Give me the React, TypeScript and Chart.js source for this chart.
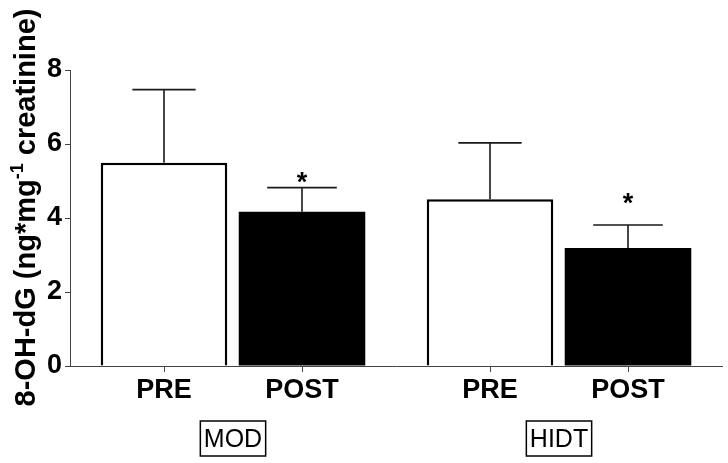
import React, { useEffect, useRef } from "react";
import { Chart, registerables } from "chart.js";

Chart.register(...registerables);

const groups = ["MOD", "HIDT"];
const phases = ["PRE", "POST"];
const preMeans = [5.49, 4.51];
const preSD = [1.98, 1.52];
const postMeans = [4.17, 3.19];
const postSD = [0.65, 0.62];
const postStarAt = [5.12, 4.54];
const yMin = 0;
const yMax = 8;
const yStep = 2;

const FONT = "'Liberation Sans', Arial, Helvetica, sans-serif";

const overlay = {
  id: "overlay",
  afterDatasetsDraw(chart: any) {
    const ctx = chart.ctx;
    const yScale = chart.scales.y;
    const xScale = chart.scales.x;
    const area = chart.chartArea;
    const sds = [preSD, postSD];
    const means = [preMeans, postMeans];
    const capRatio = [0.5, 0.55];
    ctx.save();
    for (let di = 0; di < 2; di++) {
      const meta = chart.getDatasetMeta(di);
      meta.data.forEach((bar: any, i: number) => {
        const p = bar.getProps(["x", "y", "width"], true);
        const top = yScale.getPixelForValue(means[di][i] + sds[di][i]);
        const capW = p.width * capRatio[di];
        ctx.strokeStyle = "#1a1a1a";
        ctx.lineWidth = 1.6;
        ctx.beginPath();
        ctx.moveTo(p.x, p.y);
        ctx.lineTo(p.x, top);
        ctx.moveTo(p.x - capW / 2, top);
        ctx.lineTo(p.x + capW / 2, top);
        ctx.stroke();
        ctx.strokeStyle = "#444";
        ctx.lineWidth = 1;
        ctx.beginPath();
        ctx.moveTo(Math.round(p.x) + 0.5, area.bottom);
        ctx.lineTo(Math.round(p.x) + 0.5, area.bottom + 6);
        ctx.stroke();
        ctx.fillStyle = "#000";
        ctx.font = `bold 27px ${FONT}`;
        ctx.textAlign = "center";
        ctx.textBaseline = "alphabetic";
        ctx.fillText(phases[di], p.x, 398);
        if (di === 1 && postStarAt[i] != null) {
          const sy = yScale.getPixelForValue(postStarAt[i]);
          ctx.font = `bold 27px ${FONT}`;
          ctx.fillText("*", p.x, sy + 14);
        }
      });
    }
    groups.forEach((g, i) => {
      const cx = xScale.getPixelForValue(i);
      ctx.font = `25px ${FONT}`;
      ctx.textAlign = "center";
      ctx.textBaseline = "alphabetic";
      ctx.fillStyle = "#000";
      ctx.fillText(g, cx, 446.5);
      ctx.strokeStyle = "#000";
      ctx.lineWidth = 1.5;
      const w = ctx.measureText(g).width + 7;
      ctx.strokeRect(cx - w / 2, 421, w, 35);
    });
    ctx.translate(34.5, 0);
    ctx.rotate(-Math.PI / 2);
    const mainFont = `bold 29px ${FONT}`;
    const supFont = `bold 18px ${FONT}`;
    const parts = [
      { t: "8-OH-dG (ng*mg", f: mainFont, dy: 0 },
      { t: "-1", f: supFont, dy: -12 },
      { t: " creatinine)", f: mainFont, dy: 0 },
    ];
    let total = 0;
    parts.forEach((p) => {
      ctx.font = p.f;
      total += ctx.measureText(p.t).width;
    });
    const centerY = 207.5;
    let pos = -(centerY + total / 2);
    ctx.textAlign = "left";
    ctx.textBaseline = "alphabetic";
    ctx.fillStyle = "#000";
    parts.forEach((p) => {
      ctx.font = p.f;
      ctx.fillText(p.t, pos, p.dy);
      pos += ctx.measureText(p.t).width;
    });
    ctx.restore();
  },
};

export default function App() {
  const ref = useRef<HTMLCanvasElement | null>(null);
  useEffect(() => {
    document.body.style.margin = "0";
    const chart = new Chart(ref.current!, {
      type: "bar",
      data: {
        labels: groups,
        datasets: [
          {
            label: phases[0],
            data: preMeans,
            backgroundColor: "#ffffff",
            borderColor: "#000000",
            borderWidth: 2.5,
            categoryPercentage: 0.8466,
            barPercentage: 0.917,
          },
          {
            label: phases[1],
            data: postMeans,
            backgroundColor: "#000000",
            borderColor: "#000000",
            borderWidth: 0,
            categoryPercentage: 0.8466,
            barPercentage: 0.917,
          },
        ],
      },
      options: {
        animation: false,
        responsive: false,
        maintainAspectRatio: false,
        layout: { padding: { left: 0, right: 6, top: 70, bottom: 97 } },
        plugins: {
          legend: { display: false },
          tooltip: { enabled: false },
          title: { display: false },
        },
        scales: {
          x: {
            type: "category",
            offset: true,
            grid: { display: false },
            border: { display: true, color: "#444", width: 1 },
            ticks: { display: false },
            afterFit: (s: any) => {
              s.height = 0;
            },
          },
          y: {
            min: yMin,
            max: yMax,
            border: { display: true, color: "#444", width: 1 },
            grid: {
              display: true,
              drawOnChartArea: false,
              drawTicks: true,
              tickLength: 5,
              color: "#444",
            },
            ticks: {
              stepSize: yStep,
              padding: 3,
              color: "#000",
              font: { family: FONT, size: 27, weight: "bold" },
            },
            afterFit: (s: any) => {
              s.width = 70;
            },
          },
        },
      },
      plugins: [overlay],
    });
    return () => chart.destroy();
  }, []);
  return (
    <div style={{ width: 728, height: 463 }}>
      <canvas ref={ref} width={728} height={463} />
    </div>
  );
}
